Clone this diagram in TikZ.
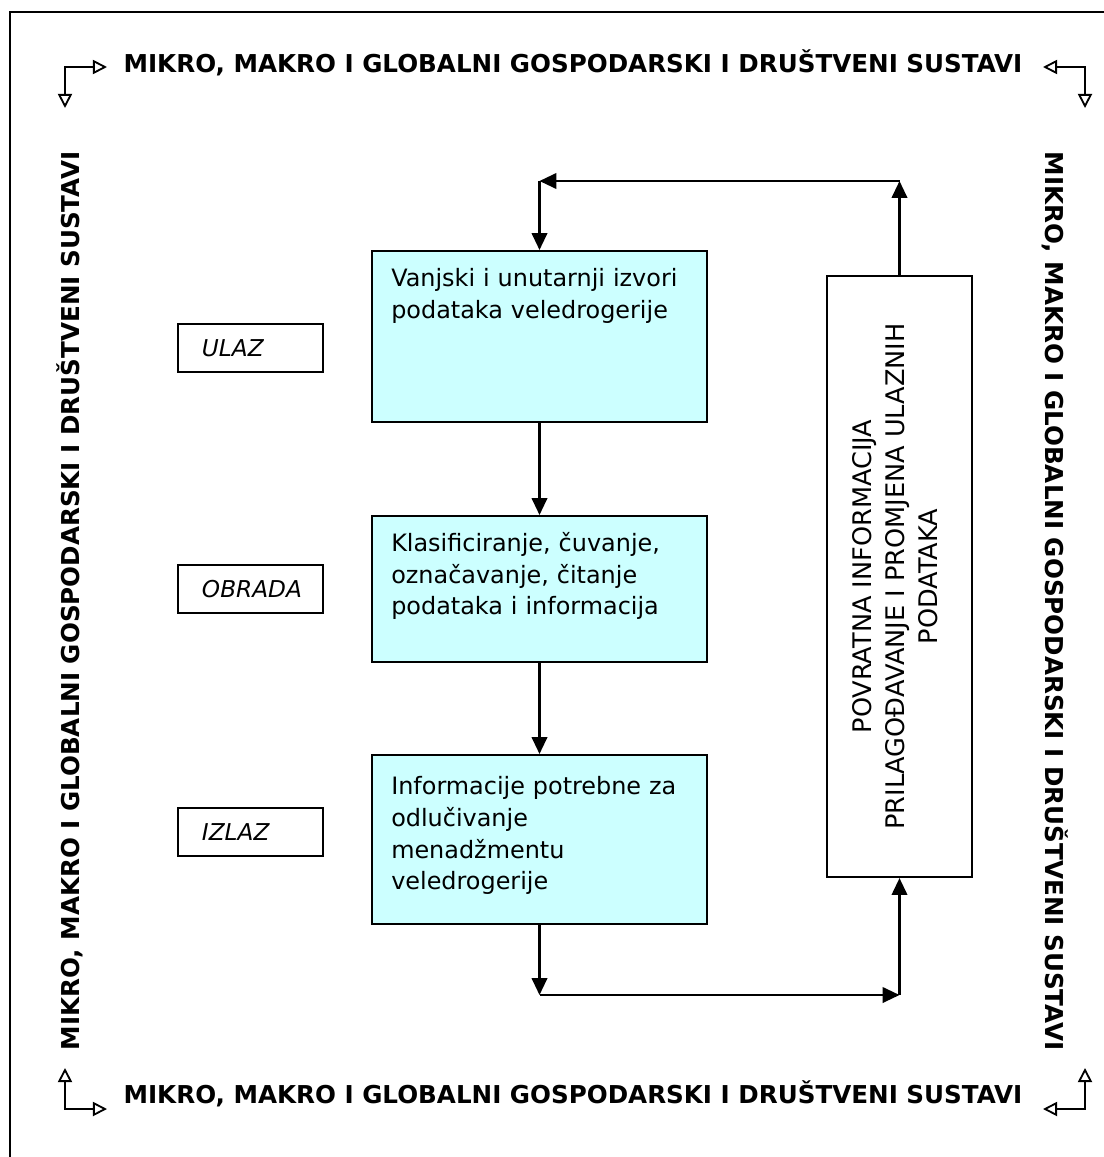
\documentclass[tikz,border=0pt]{standalone}
\usepackage{fontspec}
\setmainfont{DejaVu Sans}
\usetikzlibrary{arrows.meta,positioning}
\definecolor{boxcyan}{HTML}{CCFFFF}
\tikzset{
  procbox/.style={draw, line width=1.4pt, fill=boxcyan, minimum width=8.375cm, inner sep=0pt},
  proctext/.style={anchor=north west, inner sep=0pt, text width=7.4cm, align=left, font=\fontsize{17}{22.6}\selectfont},
  tagbox/.style={draw, line width=1.4pt, minimum width=3.625cm, minimum height=1.2cm, inner xsep=0.6cm, text width=2.425cm, align=left, font=\fontsize{16.5}{19}\selectfont\itshape},
  fbbox/.style={draw, line width=1.4pt, minimum width=3.625cm, minimum height=15.025cm},
  fbtext/.style={rotate=90, align=center, font=\fontsize{18.2}{23.5}\selectfont},
  flowarrow/.style={line width=1.6pt, -{Triangle[length=12pt, width=11pt]}},
  corner/.style={line width=1.3pt, {Triangle[open, length=10pt, width=10pt]}-{Triangle[open, length=10pt, width=10pt]}},
  sysname/.style={anchor=base, inner sep=0pt, font=\fontsize{17.5}{21}\selectfont\bfseries}
}
\begin{document}
\begin{tikzpicture}[x=0.025cm, y=-0.025cm]
\useasboundingbox (0,0) rectangle (1104,1157);
\draw[line width=1.1pt] (10,12) rectangle (1120,1170);

\node[sysname] (systop) at (573,72) {MIKRO, MAKRO I GLOBALNI GOSPODARSKI I DRUŠTVENI SUSTAVI};
\node[sysname] (sysbottom) at (573,1103) {MIKRO, MAKRO I GLOBALNI GOSPODARSKI I DRUŠTVENI SUSTAVI};
\node[sysname, rotate=90] (sysleft) at (79,601) {MIKRO, MAKRO I GLOBALNI GOSPODARSKI I DRUŠTVENI SUSTAVI};
\node[sysname, rotate=-90] (sysright) at (1045,601) {MIKRO, MAKRO I GLOBALNI GOSPODARSKI I DRUŠTVENI SUSTAVI};

\coordinate (tlv) at (65,108);
\coordinate (tlh) at (107,67);
\coordinate (trh) at (1043,67);
\coordinate (trv) at (1085,108);
\coordinate (blv) at (65,1068);
\coordinate (blh) at (107,1109);
\coordinate (brh) at (1043,1109);
\coordinate (brv) at (1085,1068);
\draw[corner] (tlv) |- (tlh);
\draw[corner] (trh) -| (trv);
\draw[corner] (blv) |- (blh);
\draw[corner] (brh) -| (brv);

\node[procbox, minimum height=4.275cm] (sources) at (539.5,336.5) {};
\node[proctext] (sourcestext) at ([xshift=0.5cm, yshift=-0.45cm]sources.north west) {Vanjski i unutarnji izvori\\ podataka veledrogerije};
\node[procbox, minimum height=3.65cm] (processing) at (539.5,589) {};
\node[proctext] (processingtext) at ([xshift=0.5cm, yshift=-0.425cm]processing.north west) {Klasificiranje, čuvanje,\\ označavanje, čitanje\\ podataka i informacija};
\node[procbox, minimum height=4.225cm] (output) at (539.5,839.5) {};
\node[proctext] (outputtext) at ([xshift=0.5cm, yshift=-0.55cm]output.north west) {\makebox[7.375cm][s]{Informacije potrebne za}\\ odlučivanje\\ menadžmentu\\ veledrogerije};

\node[tagbox] (ulaz) at (250.5,348) {ULAZ};
\node[tagbox] (obrada) at (250.5,589) {OBRADA};
\node[tagbox] (izlaz) at (250.5,832) {IZLAZ};

\node[fbbox] (feedback) at (899.5,576.5) {};
\node[fbtext] (feedbacktext) at ([xshift=-0.1cm]feedback.center) {POVRATNA INFORMACIJA\\ PRILAGOĐAVANJE I PROMJENA ULAZNIH\\ PODATAKA};

\coordinate (loopbl) at (output.south |- 0,995);
\coordinate (loopbr) at (feedback.south |- loopbl);
\coordinate (looptr) at (feedback.north |- 0,181);
\coordinate (looptl) at (sources.north |- looptr);

\draw[flowarrow] (sources.south) -- (processing.north);
\draw[flowarrow] (processing.south) -- (output.north);
\draw[flowarrow] (output.south) -- (loopbl);
\draw[flowarrow] (loopbl) -- (loopbr);
\draw[flowarrow] (loopbr) -- (feedback.south);
\draw[flowarrow] (feedback.north) -- (looptr);
\draw[flowarrow] (looptr) -- (looptl);
\draw[flowarrow] (looptl) -- (sources.north);
\end{tikzpicture}
\end{document}
